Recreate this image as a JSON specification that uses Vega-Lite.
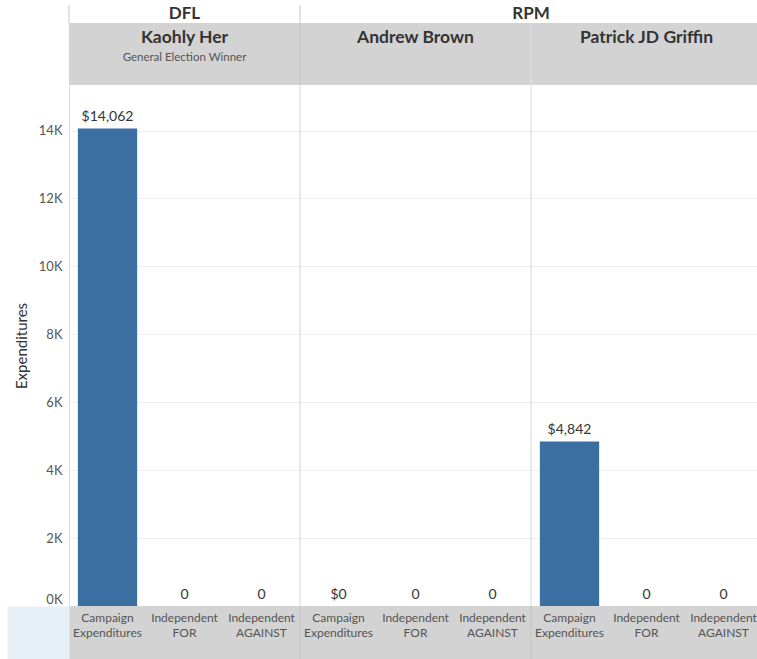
{
  "$schema": "https://vega.github.io/schema/vega-lite/v6.json",
  "padding": {"left": 14, "top": 4, "right": 0, "bottom": 0},
  "autosize": {"type": "pad"},
  "spacing": 0,
  "bounds": "flush",
  "resolve": {"scale": {"x": "independent", "xOffset": "independent", "y": "independent"}},
  "config": {"view": {"stroke": null}, "font": "Lato", "concat": {"spacing": 0}},
  "data": {"values": [
    {"party": "DFL", "candidate": "Kaohly Her", "note": "General Election Winner", "type": "Campaign Expenditures", "value": 14062},
    {"party": "DFL", "candidate": "Kaohly Her", "note": "General Election Winner", "type": "Independent FOR", "value": 0},
    {"party": "DFL", "candidate": "Kaohly Her", "note": "General Election Winner", "type": "Independent AGAINST", "value": 0},
    {"party": "RPM", "candidate": "Andrew Brown", "note": "", "type": "Campaign Expenditures", "value": 0},
    {"party": "RPM", "candidate": "Andrew Brown", "note": "", "type": "Independent FOR", "value": 0},
    {"party": "RPM", "candidate": "Andrew Brown", "note": "", "type": "Independent AGAINST", "value": 0},
    {"party": "RPM", "candidate": "Patrick JD Griffin", "note": "", "type": "Campaign Expenditures", "value": 4842},
    {"party": "RPM", "candidate": "Patrick JD Griffin", "note": "", "type": "Independent FOR", "value": 0},
    {"party": "RPM", "candidate": "Patrick JD Griffin", "note": "", "type": "Independent AGAINST", "value": 0}
  ]},
  "vconcat": [
    {
      "width": 693, "height": 18,
      "encoding": {
        "x": {"field": "candidate", "type": "nominal", "axis": null,
              "scale": {"domain": ["Kaohly Her", "Andrew Brown", "Patrick JD Griffin"], "paddingInner": 0, "paddingOuter": 0}}
      },
      "layer": [
        {"transform": [{"filter": "datum.type == 'Campaign Expenditures' && datum.candidate != 'Patrick JD Griffin'"}],
         "mark": {"type": "rule", "color": "#c8c8c8", "strokeWidth": 1},
         "encoding": {"x": {"field": "candidate", "type": "nominal", "bandPosition": 0}}},
        {"transform": [{"filter": "datum.type == 'Campaign Expenditures' && datum.candidate == 'Kaohly Her'"}],
         "mark": {"type": "text", "fontSize": 17, "fontWeight": "bold", "color": "#333333", "dy": 0},
         "encoding": {"text": {"field": "party"}}},
        {"transform": [{"filter": "datum.type == 'Campaign Expenditures' && datum.candidate == 'Patrick JD Griffin'"}],
         "mark": {"type": "text", "fontSize": 17, "fontWeight": "bold", "color": "#333333", "dy": 0},
         "encoding": {"x": {"field": "candidate", "type": "nominal", "bandPosition": 0}, "text": {"field": "party"}}}
      ]
    },
    {
      "width": 693, "height": 62,
      "transform": [{"filter": "datum.type == 'Campaign Expenditures'"}],
      "encoding": {
        "x": {"field": "candidate", "type": "nominal", "axis": null,
              "scale": {"domain": ["Kaohly Her", "Andrew Brown", "Patrick JD Griffin"], "paddingInner": 0, "paddingOuter": 0}}
      },
      "layer": [
        {"mark": {"type": "rect", "color": "#d3d3d3"}},
        {"transform": [{"filter": "datum.candidate == 'Andrew Brown'"}],
         "mark": {"type": "rule", "color": "#c4c4c4"},
         "encoding": {"x": {"field": "candidate", "type": "nominal", "bandPosition": 0}}},
        {"transform": [{"filter": "datum.candidate == 'Patrick JD Griffin'"}],
         "mark": {"type": "rule", "color": "#e2e2e2"},
         "encoding": {"x": {"field": "candidate", "type": "nominal", "bandPosition": 0}}},
        {"mark": {"type": "text", "fontSize": 17.5, "fontWeight": "bold", "color": "#333333", "dy": -16},
         "encoding": {"text": {"field": "candidate"}}},
        {"mark": {"type": "text", "fontSize": 11.5, "color": "#555555", "dy": 4},
         "encoding": {"text": {"field": "note"}}}
      ]
    },
    {
      "width": 693, "height": 521,
      "encoding": {
        "x": {"field": "candidate", "type": "nominal", "axis": null,
              "scale": {"domain": ["Kaohly Her", "Andrew Brown", "Patrick JD Griffin"], "paddingInner": 0, "paddingOuter": 0}},
        "xOffset": {"field": "type", "type": "nominal",
                    "scale": {"domain": ["Campaign Expenditures", "Independent FOR", "Independent AGAINST"], "paddingInner": 0.23, "paddingOuter": 0.115}},
        "y": {"field": "value", "type": "quantitative",
              "scale": {"domain": [0, 15341], "nice": false, "zero": false},
              "axis": {"values": [0, 2000, 4000, 6000, 8000, 10000, 12000, 14000],
                       "labelExpr": "(datum.value / 1000) + 'K'", "labelFlush": true,
                       "grid": true, "gridColor": "#efefef", "domain": true, "domainColor": "#dcdcdc",
                       "ticks": false, "labelColor": "#555555", "labelFontSize": 13, "labelPadding": 7,
                       "title": "Expenditures", "titleFontSize": 15, "titleColor": "#333333",
                       "titleFontWeight": "normal", "titlePadding": 9}}
      },
      "layer": [
        {"transform": [{"filter": "datum.type == 'Campaign Expenditures' && datum.candidate != 'Kaohly Her'"}],
         "mark": {"type": "rule", "color": "#d6d6d6"},
         "encoding": {"x": {"field": "candidate", "type": "nominal", "bandPosition": 0}, "xOffset": null, "y": null}},
        {"mark": {"type": "bar", "color": "#3c6fa1"},
         "encoding": {"y2": {"datum": 0}}},
        {"transform": [{"filter": "datum.type == 'Campaign Expenditures'"}],
         "mark": {"type": "text", "fontSize": 14, "color": "#333333", "baseline": "alphabetic", "dy": -7.5},
         "encoding": {"text": {"field": "value", "type": "quantitative", "format": "$,.0f"}}},
        {"transform": [{"filter": "datum.type != 'Campaign Expenditures'"}],
         "mark": {"type": "text", "fontSize": 14, "color": "#333333", "baseline": "alphabetic", "dy": -7.5},
         "encoding": {"text": {"field": "value", "type": "quantitative", "format": ",.0f"}}}
      ]
    },
    {
      "width": 693, "height": 54,
      "encoding": {
        "x": {"field": "candidate", "type": "nominal", "axis": null,
              "scale": {"domain": ["Kaohly Her", "Andrew Brown", "Patrick JD Griffin"], "paddingInner": 0, "paddingOuter": 0}},
        "xOffset": {"field": "type", "type": "nominal",
                    "scale": {"domain": ["Campaign Expenditures", "Independent FOR", "Independent AGAINST"], "paddingInner": 0, "paddingOuter": 0}}
      },
      "layer": [
        {"mark": {"type": "rect", "color": "#d3d3d3"},
         "encoding": {"y": {"datum": "c", "type": "nominal", "scale": {"paddingInner": 0, "paddingOuter": 0},
                            "axis": {"orient": "left", "labels": false, "ticks": false, "title": null, "grid": false,
                                     "domain": true, "domainColor": "#e6f0f7", "domainWidth": 62, "domainCap": "butt", "offset": 31}}}},
        {"transform": [{"filter": "datum.type == 'Campaign Expenditures' && datum.candidate != 'Kaohly Her'"}],
         "mark": {"type": "rule", "color": "#c4c4c4"},
         "encoding": {"x": {"field": "candidate", "type": "nominal", "bandPosition": 0}, "xOffset": null}},
        {"mark": {"type": "text", "fontSize": 12, "color": "#555555", "lineBreak": " ", "baseline": "middle", "dy": -15, "lineHeight": 15},
         "encoding": {"text": {"field": "type"}}}
      ]
    }
  ]
}
